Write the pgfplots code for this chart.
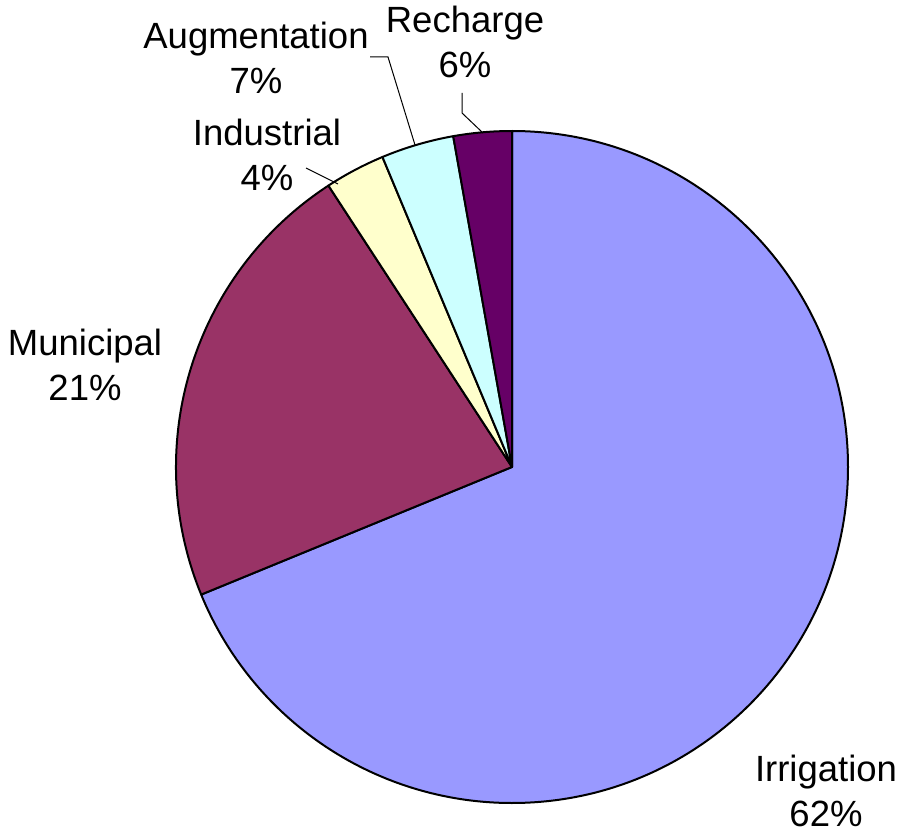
\documentclass[border=0pt]{standalone}
\usepackage{pgfplots}
\usepackage{pgfplotstable}
\pgfplotsset{compat=1.18}
\usepackage{fontspec}
\setmainfont{Liberation Sans}

\definecolor{irr}{HTML}{9999FF}
\definecolor{mun}{HTML}{993366}
\definecolor{ind}{HTML}{FFFFCC}
\definecolor{aug}{HTML}{CCFFFF}
\definecolor{rec}{HTML}{660066}

% slice sizes as drawn (share of the circle, %), clockwise from 12 o'clock
\pgfplotstableread{
name         value color
Irrigation   68.8  irr
Municipal    22.0  mun
Industrial   2.9   ind
Augmentation 3.5   aug
Recharge     2.8   rec
}\slices

\begin{document}
\begin{tikzpicture}[lbl/.style={font=\fontsize{18.25}{22.5}\selectfont, align=center, inner sep=0pt}]
\begin{axis}[
  x=0.5pt, y=0.5pt,
  xmin=0, xmax=901, ymin=0, ymax=832,
  hide axis, clip=false,
]
  \path (axis cs:0,0) (axis cs:901,832);
  \pgfplotstablegetrowsof{\slices}
  \pgfmathtruncatemacro\N{\pgfplotsretval-1}
  \def\startangle{90}
  \pgfplotsforeachungrouped \i in {0,...,\N}{
    \pgfplotstablegetelem{\i}{value}\of\slices \let\v\pgfplotsretval
    \pgfplotstablegetelem{\i}{color}\of\slices \let\c\pgfplotsretval
    \pgfmathsetmacro\endangle{\startangle-3.6*\v}
    \edef\temp{\noexpand\filldraw[fill=\c, draw=black, line width=1pt, line join=round]
      (axis cs:512,365) -- ++(\startangle:168pt)
      arc[start angle=\startangle, end angle=\endangle, radius=168pt] -- cycle;}
    \temp
    \global\let\startangle\endangle
  }

  % leader lines
  \draw[line width=0.5pt] (axis cs:306,664) -- (axis cs:338,648);
  \draw[line width=0.5pt] (axis cs:370,775) -- (axis cs:388,775) -- (axis cs:415,687);
  \draw[line width=0.5pt] (axis cs:462,739) -- (axis cs:462,719) -- (axis cs:483,699);

  % labels
  \node[lbl] at (axis cs:826,41)  {Irrigation\\62\%};
  \node[lbl] at (axis cs:85,467)  {Municipal\\21\%};
  \node[lbl] at (axis cs:267,677) {Industrial\\4\%};
  \node[lbl] at (axis cs:256,774) {Augmentation\\7\%};
  \node[lbl] at (axis cs:465,790) {Recharge\\6\%};
\end{axis}
\end{tikzpicture}
\end{document}
